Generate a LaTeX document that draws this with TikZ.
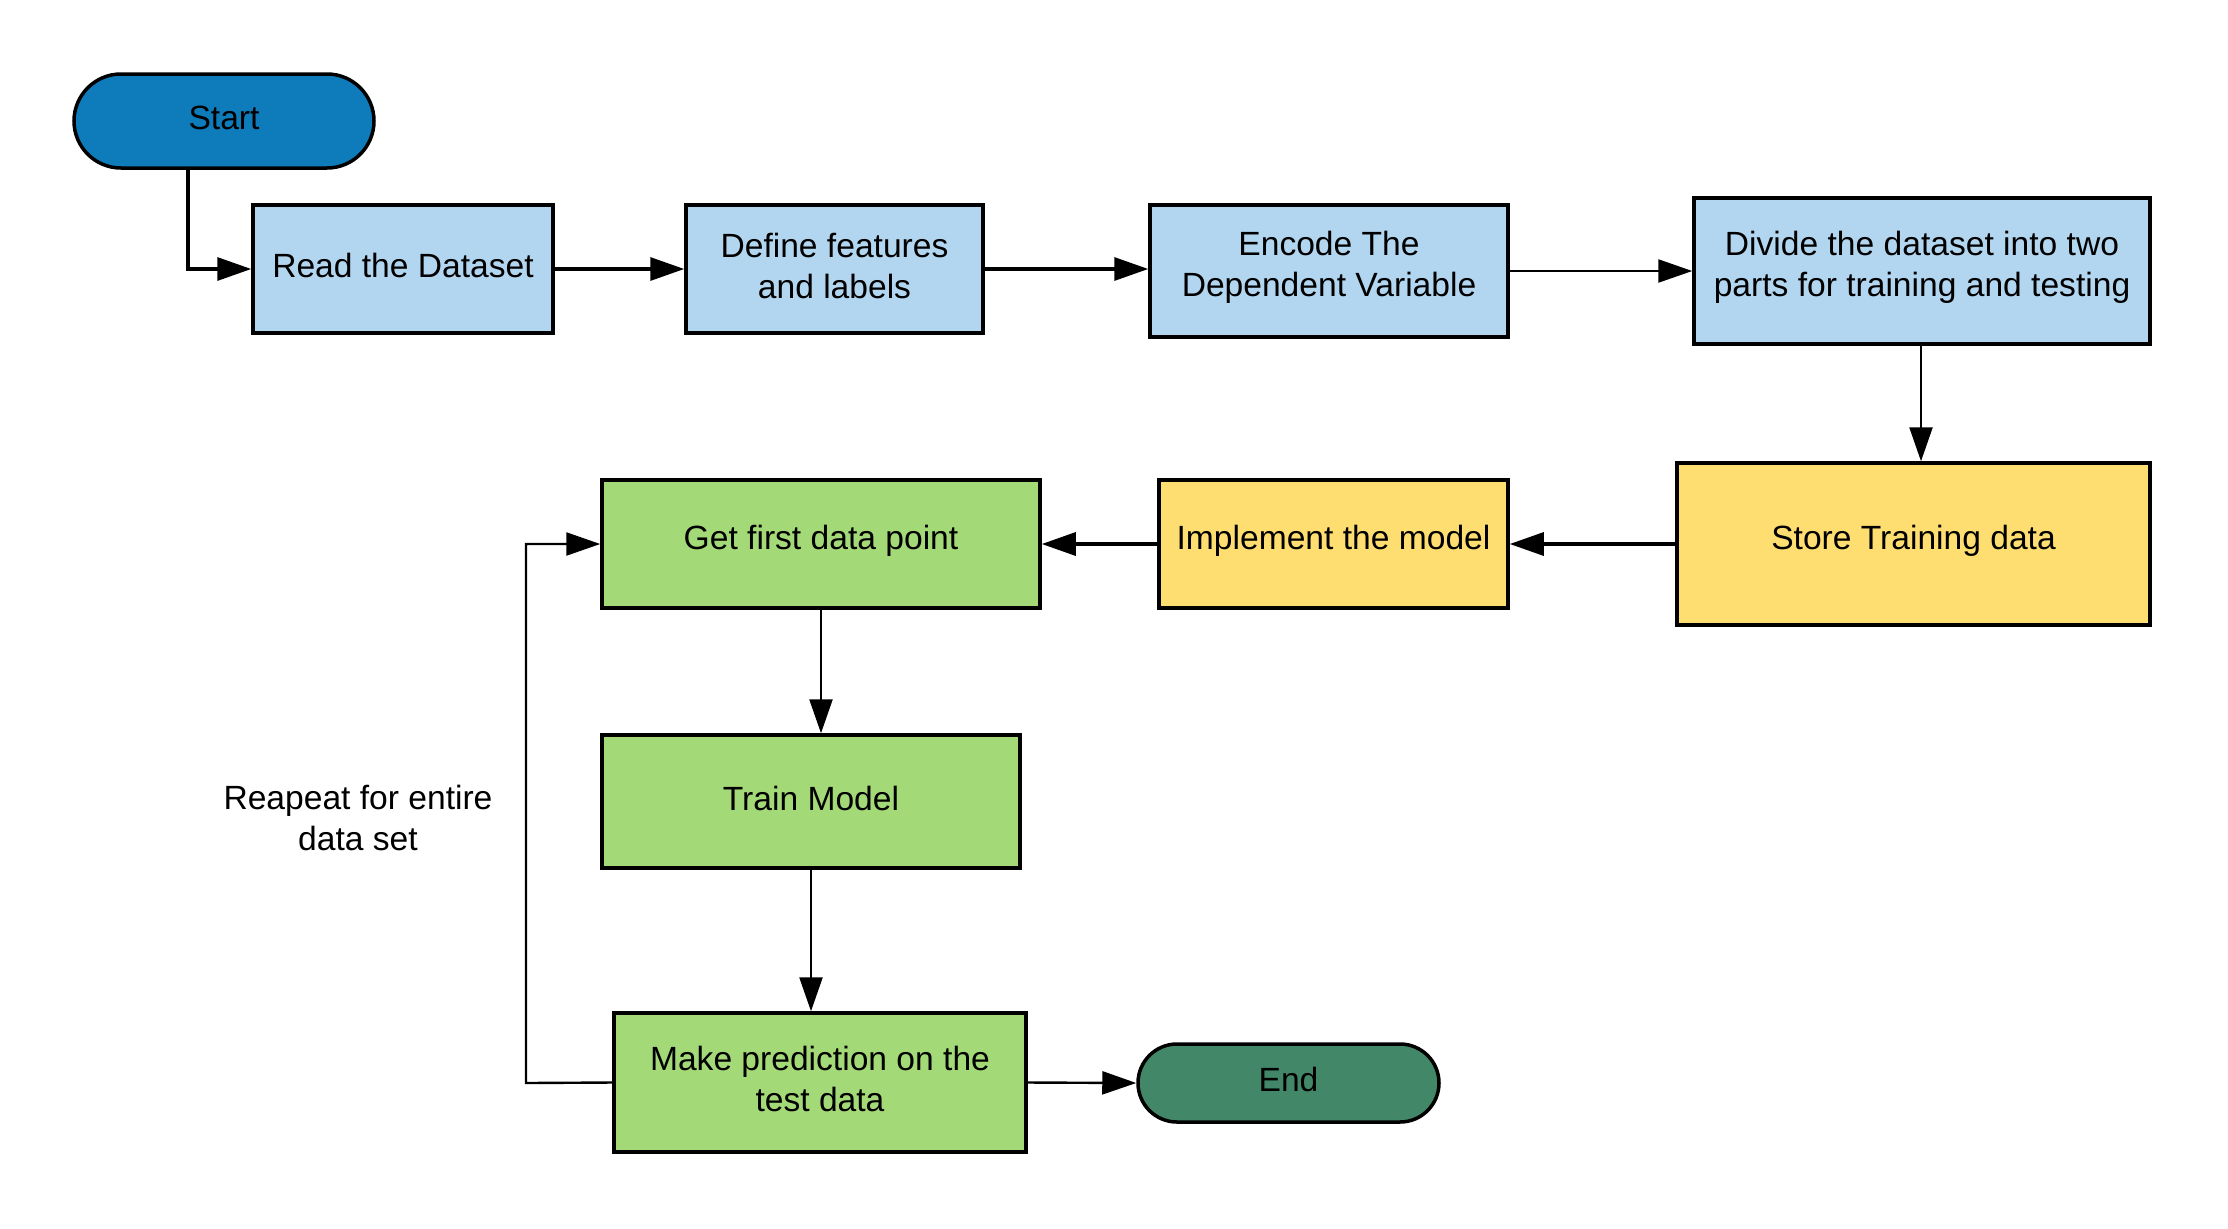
\documentclass[tikz,border=0pt]{standalone}
\usepackage{fontspec}
\setmainfont{Liberation Sans}
\usetikzlibrary{arrows.meta}
\definecolor{cstart}{HTML}{0E7BBB}
\definecolor{cblue}{HTML}{B3D6F0}
\definecolor{cyellow}{HTML}{FFDE71}
\definecolor{cgreen}{HTML}{A4D977}
\definecolor{cend}{HTML}{428868}
\begin{document}
\begin{tikzpicture}[x=0.5pt,y=-0.5pt,
  every node/.style={font=\fontsize{16.8}{20.5}\selectfont, align=center, inner sep=0pt},
  lbl/.style={font=\fontsize{16.8}{20.5}\selectfont, align=center, inner sep=0pt, yshift=1.6pt},
  txt/.style={label={[lbl]center:#1}},
  box/.style={draw=black, line width=1.75pt, rectangle},
  term/.style={draw=black, line width=1.75pt, rounded corners=#1},
  thickarr/.style={line width=1.6pt, -{Triangle[length=17pt,width=11.5pt]}},
  thinarr/.style={line width=1.2pt, -{Triangle[length=17pt,width=11.5pt]}}
]
\fill[white] (0,0) rectangle (2228,1228);
\useasboundingbox (0,0) rectangle (2228,1228);

\node[term=23.5pt, fill=cstart, minimum width=150pt, minimum height=47pt, txt={Start}] (start) at (224,121) {};
\node[box, fill=cblue, minimum width=150pt, minimum height=64pt, txt={Read the Dataset}] (read) at (403,269) {};
\node[box, fill=cblue, minimum width=148.5pt, minimum height=64pt, txt={Define features\\and labels}] (define) at (834.5,269) {};
\node[box, fill=cblue, minimum width=179pt, minimum height=66pt, txt={Encode The\\Dependent Variable}] (encode) at (1329,271) {};
\node[box, fill=cblue, minimum width=228pt, minimum height=73pt, txt={Divide the dataset into two\\parts for training and testing}] (divide) at (1922,271) {};
\node[box, fill=cyellow, minimum width=236.5pt, minimum height=81pt, txt={Store Training data}] (store) at (1913.5,544) {};
\node[box, fill=cyellow, minimum width=174.5pt, minimum height=64pt, txt={Implement the model}] (impl) at (1333.5,544) {};
\node[box, fill=cgreen, minimum width=219pt, minimum height=64pt, txt={Get first data point}] (first) at (821,544) {};
\node[box, fill=cgreen, minimum width=209pt, minimum height=66.5pt, txt={Train Model}] (train) at (811,801.5) {};
\node[box, fill=cgreen, minimum width=206pt, minimum height=69.5pt, txt={Make prediction on the\\test data}] (make) at (820,1082.5) {};
\node[term=19.5pt, fill=cend, minimum width=150.5pt, minimum height=39pt, txt={End}] (end) at (1288.5,1083) {};
\node (rep) at (358,818) {Reapeat for entire\\data set};

\coordinate (loopb) at (526,1083);
\coordinate (loopt) at (526,544);

\draw[thickarr] (start.south -| 188,0) |- (read.west);
\draw[thickarr] (read.east) -- (define.west);
\draw[thickarr] (define.east) -- (encode.west |- define.east);
\draw[thinarr] (encode.east) -- (divide.west |- encode.east);
\draw[thinarr] (divide.south -| 1921,0) -- (store.north -| 1921,0);
\draw[thickarr] (store.west) -- (impl.east);
\draw[thickarr] (impl.west) -- (first.east);
\draw[thinarr] (first.south) -- (train.north -| first.south);
\draw[thinarr] (train.south) -- (make.north -| train.south);
\draw[thinarr] (make.east) -- (end.west);
\draw[thinarr] (make.west) -- (loopb) -- (loopt) -- (first.west);
\end{tikzpicture}
\end{document}
